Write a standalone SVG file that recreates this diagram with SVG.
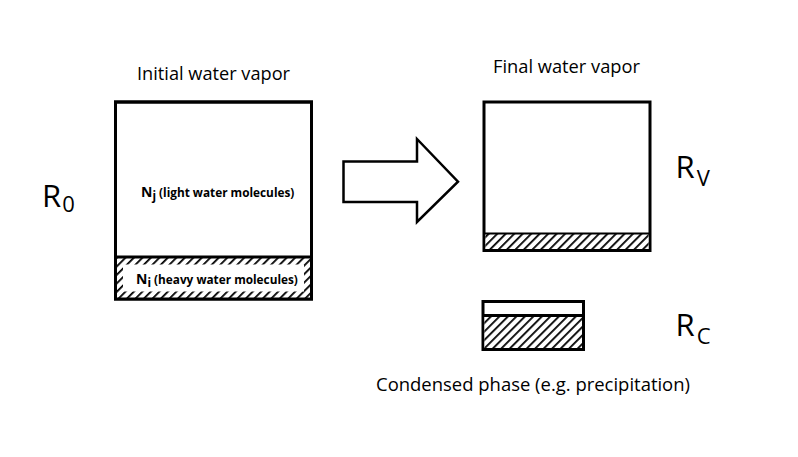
<svg xmlns="http://www.w3.org/2000/svg" width="798" height="457" viewBox="0 0 798 457">
<style>
.box{fill:#fff;stroke:#000;stroke-width:3}
.lbl{font-family:"Open Sans","Liberation Sans",sans-serif;font-size:17.5px;fill:#000}
.big{font-family:"Open Sans","Liberation Sans",sans-serif;font-size:31px;fill:#000}
.sub{font-size:22px}
.in{font-family:"Open Sans","Liberation Sans",sans-serif;font-size:11.8px;font-weight:bold;fill:#000}
.inN{font-size:14px}
</style>
<defs>
<pattern id="hatch" patternUnits="userSpaceOnUse" width="6" height="6" patternTransform="rotate(45)">
<rect width="6" height="6" fill="#fff"/>
<line x1="0" y1="0" x2="0" y2="6" stroke="#000" stroke-width="3.6"/>
</pattern>
</defs>
<rect width="798" height="457" fill="#fff"/>
<g id="initial">
<rect class="box" x="115.5" y="102" width="196" height="197"/>
<rect x="117" y="258" width="193" height="40" fill="url(#hatch)"/>
<rect x="123" y="264.5" width="181" height="27" fill="#fff"/>
<line x1="115.5" y1="257" x2="311.5" y2="257" stroke="#000" stroke-width="3"/>
<rect x="115.5" y="102" width="196" height="197" fill="none" stroke="#000" stroke-width="3"/>
<text class="lbl" x="213.5" y="80" text-anchor="middle" textLength="153" lengthAdjust="spacingAndGlyphs">Initial water vapor</text>
<text class="in" x="141" y="197"><tspan class="inN">N</tspan><tspan dy="3">j</tspan><tspan dy="-3"> (light water molecules)</tspan></text>
<text class="in" x="136" y="284"><tspan class="inN">N</tspan><tspan dy="3">i</tspan><tspan dy="-3"> (heavy water molecules)</tspan></text>
</g>
<g id="r0"><text class="big" x="42" y="207.3">R<tspan class="sub" dx="1" dy="4.5">0</tspan></text></g>
<g id="connectors">
<polygon points="343.5,161.5 417,161.5 417,139 458,181.7 417,222 417,202 343.5,202" fill="#fff" stroke="#000" stroke-width="2.5" stroke-linejoin="miter"/>
</g>
<g id="final">
<rect class="box" x="484" y="102" width="166" height="148.5"/>
<rect x="485.5" y="234" width="163" height="15" fill="url(#hatch)"/>
<line x1="484" y1="233.5" x2="650" y2="233.5" stroke="#000" stroke-width="2"/>
<text class="lbl" x="566.5" y="73" text-anchor="middle" textLength="147" lengthAdjust="spacingAndGlyphs">Final water vapor</text>
</g>
<g id="rv"><text class="big" x="675.5" y="178.3">R<tspan class="sub" dx="2" dy="7.5">V</tspan></text></g>
<g id="condensed">
<rect class="box" x="483" y="301.5" width="100.5" height="48"/>
<rect x="484.5" y="316.5" width="97.5" height="31.5" fill="url(#hatch)"/>
<line x1="483" y1="315.5" x2="583.5" y2="315.5" stroke="#000" stroke-width="3"/>
<text class="lbl" x="533" y="391" text-anchor="middle" textLength="314" lengthAdjust="spacingAndGlyphs">Condensed phase (e.g. precipitation)</text>
</g>
<g id="rc"><text class="big" x="675.5" y="336.3">R<tspan class="sub" dx="2" dy="7.5">C</tspan></text></g>
</svg>
